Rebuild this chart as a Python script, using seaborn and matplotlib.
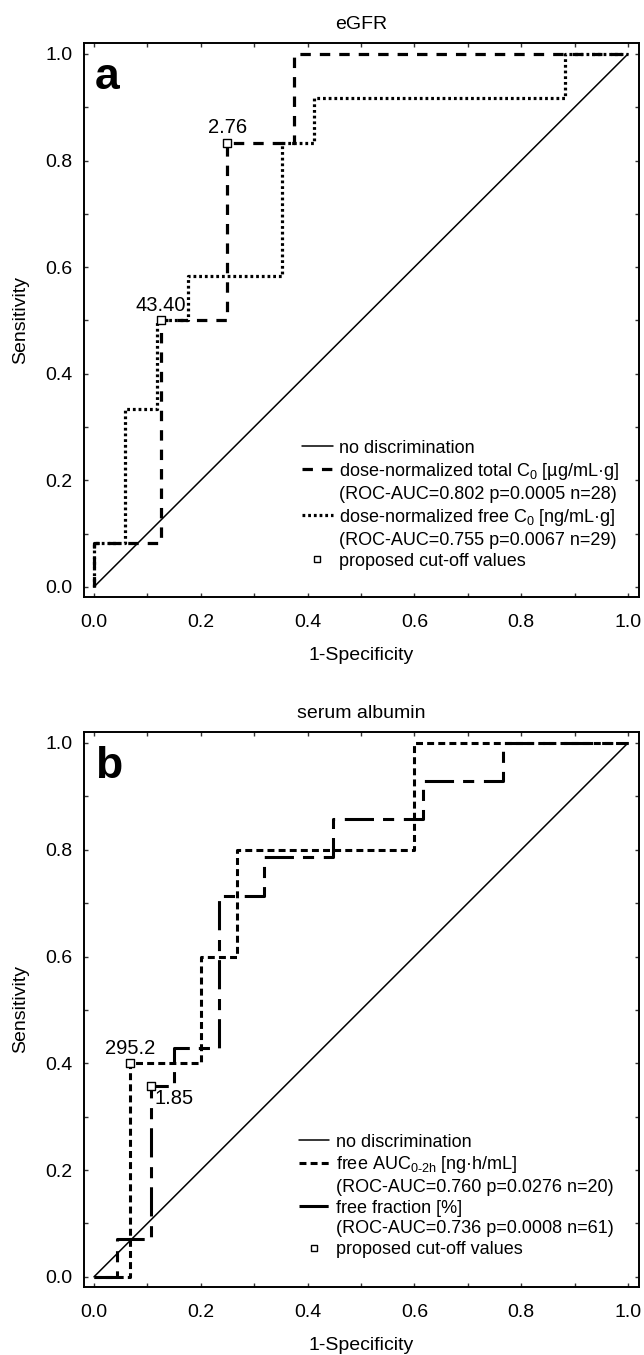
import numpy as np
import pandas as pd
import matplotlib
matplotlib.use("Agg")
import matplotlib.pyplot as plt
from matplotlib.lines import Line2D
from matplotlib.ticker import MultipleLocator
import seaborn as sns

# ---------------- data (ROC vertices) ----------------
# panel a: eGFR
a_total_fpr = [0.0, 0.0, 0.125, 0.125, 0.25, 0.25, 0.375, 0.375, 1.0]
a_total_tpr = [0.0, 0.083, 0.083, 0.5, 0.5, 0.833, 0.833, 1.0, 1.0]
a_free_fpr = [0.0, 0.0, 0.059, 0.059, 0.118, 0.118, 0.176, 0.176, 0.353, 0.353,
              0.412, 0.412, 0.882, 0.882, 1.0]
a_free_tpr = [0.0, 0.083, 0.083, 0.333, 0.333, 0.5, 0.5, 0.583, 0.583, 0.833,
              0.833, 0.917, 0.917, 1.0, 1.0]
a_cut_x = [0.125, 0.25]
a_cut_y = [0.5, 0.833]
a_cut_labels = ["43.40", "2.76"]

# panel b: serum albumin
b_auc_fpr = [0.0, 0.067, 0.067, 0.2, 0.2, 0.267, 0.267, 0.6, 0.6, 1.0]
b_auc_tpr = [0.0, 0.0, 0.4, 0.4, 0.6, 0.6, 0.8, 0.8, 1.0, 1.0]
b_ff_fpr = [0.0, 0.043, 0.043, 0.106, 0.106, 0.149, 0.149, 0.234, 0.234, 0.319,
            0.319, 0.447, 0.447, 0.617, 0.617, 0.766, 0.766, 1.0]
b_ff_tpr = [0.0, 0.0, 0.071, 0.071, 0.357, 0.357, 0.429, 0.429, 0.714, 0.714,
            0.786, 0.786, 0.857, 0.857, 0.929, 0.929, 1.0, 1.0]
b_cut_x = [0.067, 0.106]
b_cut_y = [0.4, 0.357]
b_cut_labels = ["295.2", "1.85"]

diag = [0.0, 1.0]
ticks = [0.0, 0.2, 0.4, 0.6, 0.8, 1.0]

titles = ["eGFR", "serum albumin"]
letters = ["a", "b"]

# ---------------- style ----------------
sns.set_style("ticks")
plt.rcParams["font.family"] = ["Liberation Sans", "DejaVu Sans"]
plt.rcParams["mathtext.fontset"] = "custom"
plt.rcParams["mathtext.rm"] = "Liberation Sans"
plt.rcParams["mathtext.default"] = "regular"
plt.rcParams["lines.scale_dashes"] = False
for k in ["text.color", "axes.labelcolor", "xtick.color", "ytick.color",
          "axes.edgecolor"]:
    plt.rcParams[k] = "black"

LS_DASH = (0, (7.5, 6.5))
LS_DOT = (0, (2.0, 2.1))
LS_SHORT = (0, (5.0, 3.0))
LS_LONG = (0, (21, 6.5, 8, 7))

FS_TICK = 14
FS_LAB = 14
FS_LEG = 13

fig = plt.figure(figsize=(6.44, 13.55), dpi=100)
ax_a = fig.add_axes([0.1304, 0.5594, 0.8618, 0.4089])
ax_b = fig.add_axes([0.1304, 0.0502, 0.8618, 0.4096])


def style_axes(ax, title, letter):
    ax.set_xlim(-0.0187, 1.0206)
    ax.set_ylim(-0.019, 1.0206)
    ax.xaxis.set_minor_locator(MultipleLocator(0.1))
    ax.yaxis.set_minor_locator(MultipleLocator(0.1))
    ax.set_xticks(ticks)
    ax.set_yticks(ticks)
    ax.set_xticklabels([f"{t:.1f}" for t in ticks])
    ax.set_yticklabels([f"{t:.1f}" for t in ticks])
    ax.tick_params(which="both", direction="in", length=3, width=1,
                   top=True, right=True, color="#333333")
    ax.tick_params(axis="y", which="major", labelsize=FS_TICK, pad=8)
    ax.tick_params(axis="x", which="major", labelsize=FS_TICK, pad=12)
    for s in ax.spines.values():
        s.set_visible(True)
        s.set_linewidth(1.4)
        s.set_color("black")
    ax.set_xlabel("1-Specificity", fontsize=FS_LAB, labelpad=12)
    ax.set_ylabel("Sensitivity", fontsize=FS_LAB, labelpad=12)
    ax.set_title(title, fontsize=14, pad=10)
    ax.text(0.02, 0.917, letter, transform=ax.transAxes, fontsize=32,
            fontweight="bold", ha="left", va="baseline")


def draw(ax, x, y, ls, lw):
    df = pd.DataFrame({"x": x, "y": y})
    sns.lineplot(data=df, x="x", y="y", ax=ax, sort=False, estimator=None,
                 color="black", linewidth=lw, linestyle=ls)
    ax.lines[-1].set_dash_capstyle("butt")


# ---------------- panel a ----------------
draw(ax_a, diag, diag, "-", 1.1)
draw(ax_a, a_total_fpr, a_total_tpr, LS_DASH, 2.3)
draw(ax_a, a_free_fpr, a_free_tpr, LS_DOT, 2.3)
sns.scatterplot(x=a_cut_x, y=a_cut_y, ax=ax_a, marker="s", s=28,
                facecolor="white", edgecolor="black", linewidth=1.0, zorder=5)
for xx, yy, lab in zip(a_cut_x, a_cut_y, a_cut_labels):
    ax_a.annotate(lab, (xx, yy), xytext=(0, 4), textcoords="offset points",
                  ha="center", va="bottom", fontsize=14.5)

# ---------------- panel b ----------------
draw(ax_b, diag, diag, "-", 1.1)
draw(ax_b, b_auc_fpr, b_auc_tpr, LS_SHORT, 2.2)
draw(ax_b, b_ff_fpr, b_ff_tpr, LS_LONG, 2.2)
sns.scatterplot(x=b_cut_x, y=b_cut_y, ax=ax_b, marker="s", s=28,
                facecolor="white", edgecolor="black", linewidth=1.0, zorder=5)
ax_b.annotate(b_cut_labels[0], (b_cut_x[0], b_cut_y[0]), xytext=(0, 4),
              textcoords="offset points", ha="center", va="bottom", fontsize=14.5)
ax_b.annotate(b_cut_labels[1], (b_cut_x[1], b_cut_y[1]), xytext=(3, -2),
              textcoords="offset points", ha="left", va="top", fontsize=14.5)

style_axes(ax_a, titles[0], letters[0])
style_axes(ax_b, titles[1], letters[1])

# ---------------- legends ----------------
blank = Line2D([], [], linestyle="none")
h_diag = Line2D([], [], color="black", lw=1.1)
h_mark = Line2D([], [], linestyle="none", marker="s", markersize=4.5,
                markerfacecolor="white", markeredgecolor="black", markeredgewidth=1.0)

h_a1 = Line2D([], [], color="black", lw=2.3, linestyle=LS_DASH, dash_capstyle="butt")
h_a2 = Line2D([], [], color="black", lw=2.3, linestyle=LS_DOT, dash_capstyle="butt")
leg_a = ax_a.legend(
    [h_diag, h_a1, blank, h_a2, blank, h_mark],
    ["no discrimination",
     "dose-normalized total C$_0$ [µg/mL·g]",
     "(ROC-AUC=0.802 p=0.0005 n=28)",
     "dose-normalized free C$_0$ [ng/mL·g]",
     "(ROC-AUC=0.755 p=0.0067 n=29)",
     "proposed cut-off values"],
    loc="upper left", bbox_to_anchor=(0.393, 0.284), frameon=False,
    borderpad=0, borderaxespad=0, handlelength=1.7, handletextpad=0.35,
    labelspacing=0.22, fontsize=FS_LEG)

h_b1 = Line2D([], [], color="black", lw=2.2, linestyle=LS_SHORT, dash_capstyle="butt")
h_b2 = Line2D([], [], color="black", lw=2.2, linestyle=LS_LONG, dash_capstyle="butt")
leg_b = ax_b.legend(
    [h_diag, h_b1, blank, h_b2, blank, h_mark],
    ["no discrimination",
     "free AUC$_{0\u20112h}$ [ng·h/mL]",
     "(ROC-AUC=0.760 p=0.0276 n=20)",
     "free fraction [%]",
     "(ROC-AUC=0.736 p=0.0008 n=61)",
     "proposed cut-off values"],
    loc="upper left", bbox_to_anchor=(0.387, 0.276), frameon=False,
    borderpad=0, borderaxespad=0, handlelength=1.7, handletextpad=0.35,
    labelspacing=0.2, fontsize=FS_LEG)

fig.savefig("out.png", dpi=100)
